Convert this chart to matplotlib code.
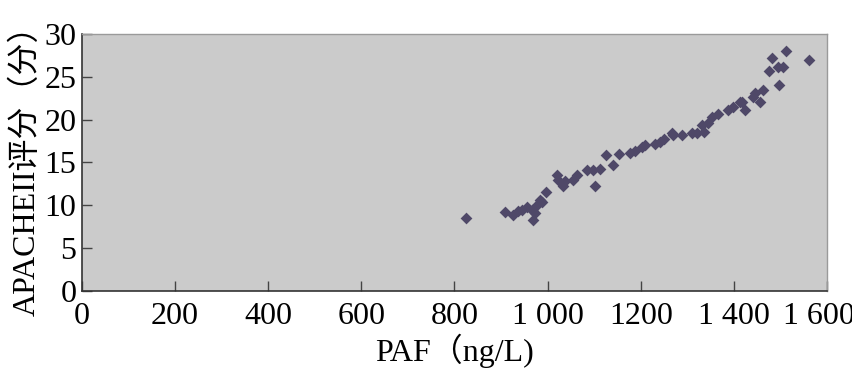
#!/usr/bin/env python3
"""Scatter of APACHE II score against PAF concentration."""

import matplotlib
matplotlib.use('Agg')
import matplotlib.pyplot as plt
import matplotlib.transforms as mtransforms

plt.rcParams['font.family'] = ['Liberation Serif', 'Noto Sans CJK SC']

paf = [824, 909, 926, 937, 944, 955, 966, 969, 973, 977, 984, 989, 996,
       1020, 1023, 1034, 1055, 1037, 1063, 1084, 1098, 1113, 1102, 1126,
       1140, 1154, 1177, 1188, 1202, 1209, 1231, 1242, 1249, 1270,
       1267, 1288, 1310, 1320, 1331, 1335, 1345, 1353, 1367, 1388, 1399,
       1413, 1424, 1417, 1441, 1446, 1456, 1462, 1476, 1481, 1494, 1498,
       1506, 1512, 1562]
apache = [8.5, 9.2, 8.9, 9.3, 9.5, 9.8, 9.5, 8.3, 9.1, 10.0, 10.6, 10.4, 11.5,
          13.5, 13.0, 12.2, 13.0, 12.8, 13.5, 14.1, 14.1, 14.2, 12.2, 15.9,
          14.7, 16.0, 16.1, 16.3, 16.8, 17.0, 17.2, 17.4, 17.8, 18.2,
          18.4, 18.2, 18.4, 18.4, 19.4, 18.6, 19.6, 20.3, 20.7, 21.1, 21.5,
          22.1, 21.1, 22.1, 22.7, 23.1, 22.1, 23.5, 25.7, 27.2, 26.1, 24.1,
          26.1, 28.0, 27.0]

x_ticks = [0, 200, 400, 600, 800, 1000, 1200, 1400, 1600]
x_tick_labels = ['0', '200', '400', '600', '800', '1 000', '1200', '1 400', '1 600']
y_ticks = [0, 5, 10, 15, 20, 25, 30]

fig = plt.figure(figsize=(8.53, 3.84), dpi=100)
ax = fig.add_axes([0.0961, 0.2422, 0.8734, 0.6693])
ax.set_facecolor('#cbcbcb')

ax.scatter(paf, apache, marker='D', s=36, color='#4f4868', linewidths=0, zorder=3)

ax.set_xlim(0, 1600)
ax.set_ylim(0, 30)
ax.set_xticks(x_ticks)
ax.set_xticklabels(x_tick_labels)
ax.set_yticks(y_ticks)
ax.tick_params(direction='in', length=7, width=1, color='#444444', labelsize=23)
ax.tick_params(axis='x', pad=8)
ax.tick_params(axis='y', pad=4)

# last x label sits a little left so it stays inside the figure
last = ax.get_xticklabels()[-1]
last.set_transform(last.get_transform() +
                   mtransforms.ScaledTranslation(-6 / 72, 0, fig.dpi_scale_trans))

for side in ['left', 'bottom']:
    ax.spines[side].set_color('#333333')
    ax.spines[side].set_linewidth(1.2)
for side in ['top', 'right']:
    ax.spines[side].set_color('#9a9a9a')
    ax.spines[side].set_linewidth(1)

ax.set_xlabel('PAF（ng/L)', fontsize=23, labelpad=2)
ax.set_ylabel('APACHEII评分（分）', fontsize=23, labelpad=2)

plt.savefig('out.png', facecolor='white')
plt.close()
